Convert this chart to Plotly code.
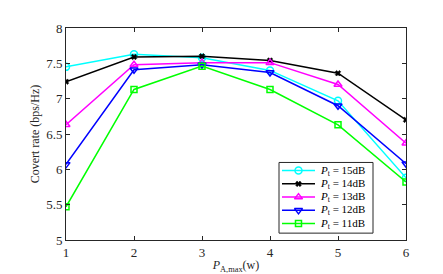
import plotly.graph_objects as go

x_vals = [1, 2, 3, 4, 5, 6]
p15 = [7.45, 7.63, 7.58, 7.40, 6.97, 5.88]
p14 = [7.24, 7.59, 7.60, 7.54, 7.36, 6.70]
p13 = [6.63, 7.48, 7.51, 7.51, 7.20, 6.37]
p12 = [6.07, 7.41, 7.48, 7.37, 6.90, 6.08]
p11 = [5.47, 7.13, 7.46, 7.13, 6.63, 5.82]
legend_labels = ["15dB", "14dB", "13dB", "12dB", "11dB"]

series = [
    (p15, "#00FFFF", "circle-open", 7),
    (p14, "#000000", "x", 5),
    (p13, "#FF00FF", "triangle-up-open", 7),
    (p12, "#0000FF", "triangle-down-open", 7),
    (p11, "#00FF00", "square-open", 6),
]

W, H = 443, 274
ML, MR, MT, MB = 58, 45, 20, 38
PW, PH = W - ML - MR, H - MT - MB

def px2x(px):
    return (px - ML) / PW

def py2y(py):
    return (H - MB - py) / PH

def marker_style(color, sym, size):
    if sym == "x":
        return dict(symbol=sym, size=size, color=color, line=dict(color=color, width=0.5))
    return dict(symbol=sym, size=size, color=color, line=dict(color=color, width=1.5))

font_family = "Liberation Serif, Times New Roman, serif"
fig = go.Figure()
for (vals, color, sym, msize) in series:
    fig.add_trace(go.Scatter(
        x=x_vals, y=vals, mode="lines+markers", showlegend=False,
        line=dict(color=color, width=1.5),
        marker=marker_style(color, sym, msize),
    ))

# custom legend (layout element) drawn on a hidden overlay axis in plot-fraction units
box_l, box_r, box_t, box_b = 271, 365, 157, 229
row_y0, row_dy = 165.3, 13.5
line_l, line_r, text_l = 274, 307, 310
shapes = [dict(type="rect", xref="paper", yref="paper",
               x0=px2x(box_l), x1=px2x(box_r), y0=py2y(box_b), y1=py2y(box_t),
               line=dict(color="#262626", width=1), fillcolor="white", layer="below")]
annotations = []
for i, ((vals, color, sym, msize), lab) in enumerate(zip(series, legend_labels)):
    yy = py2y(row_y0 + i * row_dy)
    fig.add_trace(go.Scatter(
        x=[px2x(line_l), px2x(line_r)], y=[yy, yy],
        xaxis="x2", yaxis="y2", mode="lines", showlegend=False, hoverinfo="skip",
        line=dict(color=color, width=1.5)))
    fig.add_trace(go.Scatter(
        x=[px2x((line_l + line_r) / 2)], y=[yy],
        xaxis="x2", yaxis="y2", mode="markers", showlegend=False, hoverinfo="skip",
        marker=marker_style(color, sym, msize)))
    annotations.append(dict(xref="paper", yref="paper", x=px2x(text_l), y=yy,
                            xanchor="left", yanchor="middle", showarrow=False,
                            text=f"<i>P</i><sub>t</sub> = {lab}",
                            font=dict(family=font_family, size=11, color="#000")))

axis_common = dict(
    showline=True, linecolor="#262626", linewidth=1, mirror="ticks",
    ticks="inside", ticklen=4, tickcolor="#262626", showgrid=False, zeroline=False,
    tickfont=dict(family=font_family, size=13, color="#262626"),
)
fig.update_layout(
    xaxis=dict(range=[1, 6], tickvals=x_vals, **axis_common,
               title=dict(text="<i>P</i><sub>A,max</sub>(w)", standoff=2,
                          font=dict(family=font_family, size=12, color="#262626"))),
    yaxis=dict(range=[5, 8], tickvals=[5, 5.5, 6, 6.5, 7, 7.5, 8],
               ticktext=["5", "5.5", "6", "6.5", "7", "7.5", "8"], **axis_common,
               title=dict(text="Covert rate (bps/Hz)", standoff=3,
                          font=dict(family=font_family, size=12, color="#262626"))),
    xaxis2=dict(overlaying="x", range=[0, 1], visible=False, fixedrange=True),
    yaxis2=dict(overlaying="y", range=[0, 1], visible=False, fixedrange=True),
    width=W, height=H,
    margin=dict(l=ML, r=MR, t=MT, b=MB),
    plot_bgcolor="white", paper_bgcolor="white",
    shapes=shapes, annotations=annotations,
    showlegend=False,
)
fig.write_html("out.html")
